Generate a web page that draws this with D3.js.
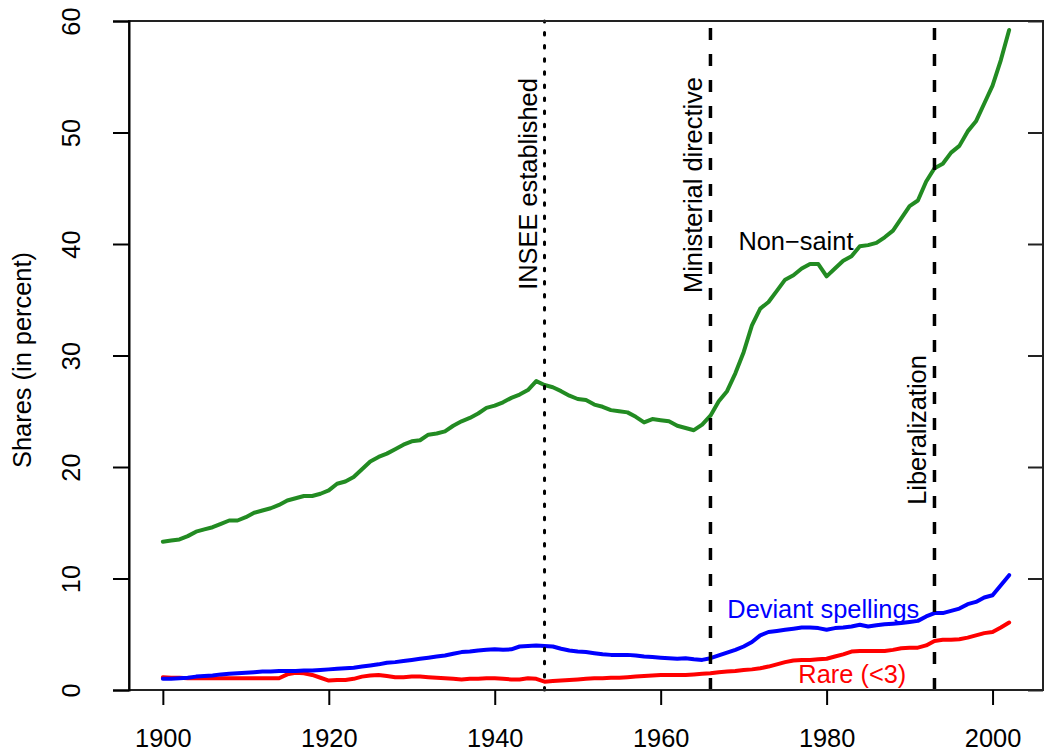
<!DOCTYPE html>
<html>
<head>
<meta charset="utf-8">
<script src="https://cdn.jsdelivr.net/npm/d3@7"></script>
<style>
  html, body { margin: 0; padding: 0; background: #fff; }
  svg text { font-family: "Liberation Sans", Arial, Helvetica, sans-serif; }
</style>
</head>
<body>
<svg id="chart" width="1046" height="755"></svg>
<script>
// ---- data ----
const startYear = 1900;
const nonSaint = [
  13.3,13.4,13.5,13.8,14.2,14.4,14.6,14.9,15.2,15.2,
  15.5,15.9,16.1,16.3,16.6,17.0,17.2,17.4,17.4,17.6,
  17.9,18.5,18.7,19.1,19.8,20.5,20.9,21.2,21.6,22.0,
  22.3,22.4,22.9,23.0,23.2,23.7,24.1,24.4,24.8,25.3,
  25.5,25.8,26.2,26.5,26.9,27.7,27.35,27.15,26.8,26.4,
  26.1,26.0,25.6,25.4,25.1,25.0,24.9,24.5,24.0,24.3,
  24.2,24.1,23.7,23.5,23.3,23.8,24.6,25.9,26.8,28.4,
  30.3,32.7,34.2,34.8,35.8,36.8,37.2,37.8,38.2,38.2,
  37.1,37.8,38.5,38.9,39.8,39.9,40.1,40.6,41.2,42.3,
  43.4,43.9,45.6,46.8,47.2,48.2,48.8,50.1,51.0,52.6,
  54.2,56.5,59.2
];
const deviant = [
  1.0,1.0,1.05,1.1,1.2,1.25,1.3,1.4,1.45,1.5,
  1.55,1.6,1.65,1.65,1.7,1.7,1.7,1.75,1.75,1.8,
  1.85,1.9,1.95,2.0,2.1,2.2,2.3,2.45,2.5,2.6,
  2.7,2.8,2.9,3.0,3.1,3.25,3.4,3.45,3.55,3.6,
  3.65,3.6,3.65,3.9,3.95,4.0,3.95,3.9,3.7,3.55,
  3.45,3.4,3.3,3.2,3.15,3.15,3.15,3.1,3.0,2.95,
  2.9,2.85,2.8,2.85,2.75,2.7,2.85,3.1,3.35,3.6,
  3.9,4.3,4.9,5.2,5.3,5.4,5.5,5.6,5.6,5.55,
  5.4,5.55,5.6,5.7,5.85,5.7,5.8,5.9,5.95,6.0,
  6.1,6.2,6.6,6.9,6.9,7.1,7.3,7.7,7.9,8.3,
  8.5,9.4,10.3
];
const rare = [
  1.15,1.1,1.1,1.05,1.05,1.05,1.05,1.05,1.05,1.05,
  1.05,1.05,1.05,1.05,1.05,1.4,1.55,1.5,1.35,1.1,
  0.85,0.9,0.9,1.0,1.2,1.3,1.35,1.25,1.15,1.15,
  1.2,1.2,1.15,1.1,1.05,1.0,0.95,1.0,1.0,1.05,
  1.05,1.0,0.95,0.95,1.05,1.0,0.75,0.8,0.85,0.9,
  0.95,1.0,1.05,1.05,1.1,1.1,1.15,1.2,1.25,1.3,
  1.35,1.35,1.35,1.35,1.4,1.45,1.5,1.6,1.65,1.7,
  1.8,1.85,1.95,2.1,2.3,2.5,2.65,2.7,2.7,2.75,
  2.8,3.0,3.2,3.45,3.5,3.5,3.5,3.5,3.6,3.75,
  3.8,3.8,4.0,4.4,4.5,4.5,4.55,4.7,4.9,5.1,
  5.2,5.6,6.05
];
const xTicks = [1900, 1920, 1940, 1960, 1980, 2000];
const yTicks = [0, 10, 20, 30, 40, 50, 60];
const events = [
  { year: 1946, label: "INSEE established", dash: "dotted" },
  { year: 1966, label: "Ministerial directive", dash: "dashed" },
  { year: 1993, label: "Liberalization", dash: "dashed" }
];
const seriesLabels = [
  { name: "Non\u2212saint", color: "#000000" },
  { name: "Deviant spellings", color: "#0000ff" },
  { name: "Rare (<3)", color: "#ff0000" }
];

// ---- layout ----
const svg = d3.select("#chart");
const L = 129, R = 1043, T = 21, B = 690;
const years = nonSaint.map((_, i) => startYear + i);
const xMin = d3.min(years), xMax = d3.max(years);
const pad = (xMax - xMin) * 0.04;
const x = d3.scaleLinear().domain([xMin - pad, xMax + pad]).range([L, R]);
const y = d3.scaleLinear().domain([0, 60]).range([B, T]);
const FS = 25.4;

// series lines
const line = d3.line().x(d => x(d[0])).y(d => y(d[1])).curve(d3.curveLinear);
const series = [
  { vals: nonSaint, color: "#228b22" },
  { vals: rare, color: "#ff0000" },
  { vals: deviant, color: "#0000ff" }
];
series.forEach(s => {
  svg.append("path")
    .datum(s.vals.map((v, i) => [years[i], v]))
    .attr("d", line)
    .attr("fill", "none")
    .attr("stroke", s.color)
    .attr("stroke-width", 4)
    .attr("stroke-linejoin", "round")
    .attr("stroke-linecap", "round");
});

// event lines
events.forEach(e => {
  const l = svg.append("line")
    .attr("x1", x(e.year)).attr("x2", x(e.year))
    .attr("y1", B).attr("y2", T)
    .attr("stroke", "#000");
  if (e.dash === "dotted") {
    l.attr("stroke-width", 3).attr("stroke-dasharray", "2.5,10.6").attr("stroke-linecap", "round");
  } else {
    l.attr("stroke-width", 3.5).attr("stroke-dasharray", "12,14");
  }
});

// box (top and right)
svg.append("rect")
  .attr("x", L).attr("y", T).attr("width", R - L).attr("height", B - T)
  .attr("fill", "none").attr("stroke", "#222").attr("stroke-width", 2);

// x axis
const xAxis = d3.axisBottom(x).tickValues(xTicks).tickSize(15).tickPadding(25).tickFormat(d3.format("d"));
const gx = svg.append("g").attr("transform", `translate(0,${B})`).call(xAxis);
gx.select(".domain").remove();
gx.selectAll(".tick line").attr("stroke", "#000").attr("stroke-width", 2);
gx.selectAll(".tick text")
  .attr("font-size", FS).attr("fill", "#000")
  .attr("dy", null).attr("y", 56.5);

// y axis
const yAxis = d3.axisLeft(y).tickValues(yTicks).tickSize(16).tickFormat(d3.format("d"));
const gy = svg.append("g").attr("transform", `translate(${L},0)`).call(yAxis);
gy.select(".domain").attr("stroke", "#000").attr("stroke-width", 2);
gy.selectAll(".tick line").attr("stroke", "#000").attr("stroke-width", 2);
gy.selectAll(".tick text").remove();
gy.selectAll(".tick").append("text")
  .attr("transform", "translate(-49,0) rotate(-90)")
  .attr("text-anchor", "middle")
  .attr("font-size", FS).attr("fill", "#000")
  .text(d => d);

// right inward ticks
const yAxisR = d3.axisLeft(y).tickValues(yTicks).tickSize(15).tickFormat("");
const gr = svg.append("g").attr("transform", `translate(${R},0)`).call(yAxisR);
gr.select(".domain").remove();
gr.selectAll(".tick line").attr("stroke", "#222").attr("stroke-width", 2);

// y axis title
svg.append("text")
  .attr("transform", `translate(31,360) rotate(-90)`)
  .attr("text-anchor", "middle").attr("font-size", FS).attr("fill", "#000")
  .text("Shares (in percent)");

// event labels
const evLabelY = [184, 185, 430];
events.forEach((e, i) => {
  svg.append("text")
    .attr("transform", `translate(${x(e.year) - 8},${evLabelY[i]}) rotate(-90)`)
    .attr("text-anchor", "middle").attr("font-size", FS).attr("fill", "#000")
    .text(e.label);
});

// series labels
const seriesLabelPos = [
  { yr: 1976.3, v: 39.45 },
  { yr: 1979.6, v: 6.45 },
  { yr: 1983.1, v: 0.62 }
];
seriesLabels.forEach((s, i) => {
  svg.append("text")
    .attr("x", x(seriesLabelPos[i].yr)).attr("y", y(seriesLabelPos[i].v))
    .attr("text-anchor", "middle").attr("font-size", FS).attr("fill", s.color)
    .text(s.name);
});
</script>
</body>
</html>
